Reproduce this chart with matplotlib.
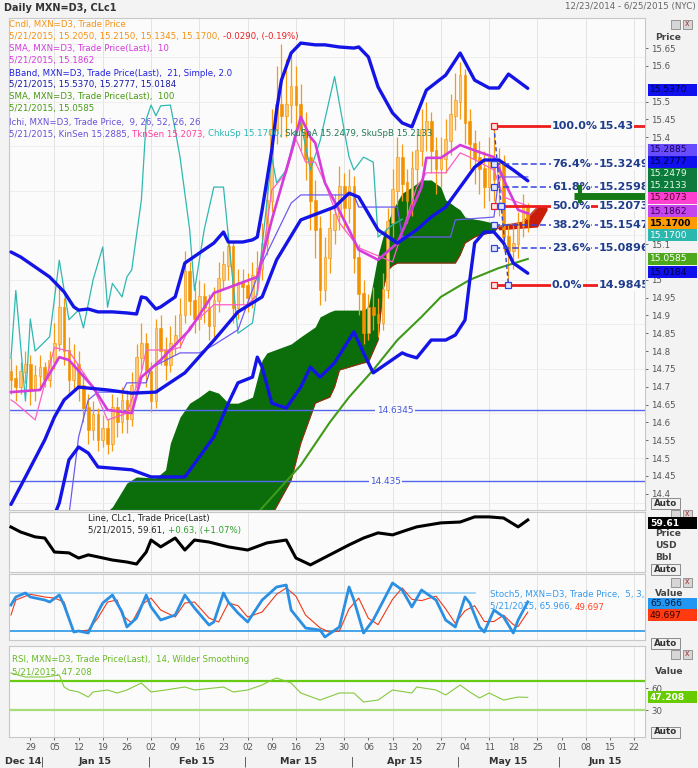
import numpy as np
import pandas as pd
import matplotlib
matplotlib.use("Agg")
import matplotlib.pyplot as plt
from matplotlib.patches import Rectangle
from matplotlib.text import Annotation
from matplotlib.transforms import blended_transform_factory
from matplotlib.ticker import FuncFormatter

plt.rcParams["font.family"] = ["DejaVu Sans"]

# x axis = trading session number (0 = 23 Dec 2014, 132 = 25 Jun 2015)
sessions = pd.bdate_range("2014-12-23", "2015-06-25")

# ---- MXN=D3 daily candles, sessions 0..107 (23 Dec 2014 .. 21 May 2015)
opens = [14.74, 14.72, 14.70, 14.74, 14.76, 14.69, 14.73, 14.75, 14.72, 14.77,
         14.82, 14.92, 14.80, 14.72, 14.76, 14.70, 14.64, 14.58, 14.62, 14.55,
         14.58, 14.54, 14.64, 14.60, 14.66, 14.61, 14.70, 14.78, 14.82, 14.74,
         14.66, 14.86, 14.80, 14.76, 14.82, 14.84, 14.90, 15.02, 14.94, 14.89,
         14.95, 14.92, 14.87, 14.94, 15.00, 15.04, 15.09, 14.92, 14.99, 14.98,
         14.95, 15.01, 15.03, 15.10, 15.22, 15.42, 15.49, 15.46, 15.49, 15.54,
         15.49, 15.42, 15.34, 15.22, 15.14, 14.97, 15.06, 15.14, 15.18, 15.26,
         15.20, 15.26, 15.06, 14.96, 14.85, 14.92, 14.90, 14.88, 14.97, 15.16,
         15.25, 15.34, 15.27, 15.22, 15.31, 15.36, 15.42, 15.44, 15.36, 15.31,
         15.34, 15.39, 15.46, 15.50, 15.57, 15.44, 15.38, 15.34, 15.31, 15.26,
         15.34, 15.28, 15.33, 15.12, 15.08, 15.10, 15.15, 15.205]
highs = [14.78, 14.76, 14.77, 14.80, 14.79, 14.76, 14.79, 14.77, 14.80, 14.88,
         14.98, 14.95, 14.84, 14.82, 14.80, 14.74, 14.68, 14.66, 14.64, 14.62,
         14.61, 14.68, 14.67, 14.70, 14.69, 14.74, 14.82, 14.88, 14.85, 14.77,
         14.89, 14.90, 14.84, 14.87, 14.90, 14.95, 15.08, 15.05, 14.98, 15.00,
         14.99, 14.96, 14.98, 15.05, 15.08, 15.13, 15.11, 15.03, 15.03, 15.02,
         15.05, 15.08, 15.16, 15.28, 15.48, 15.60, 15.66, 15.62, 15.64, 15.60,
         15.55, 15.47, 15.40, 15.28, 15.18, 15.12, 15.20, 15.24, 15.32, 15.30,
         15.31, 15.29, 15.10, 15.00, 14.96, 14.98, 14.95, 15.02, 15.20, 15.31,
         15.40, 15.38, 15.31, 15.36, 15.42, 15.48, 15.50, 15.47, 15.40, 15.40,
         15.45, 15.52, 15.58, 15.61, 15.59, 15.48, 15.42, 15.39, 15.36, 15.40,
         15.43, 15.37, 15.35, 15.16, 15.16, 15.19, 15.24, 15.215]
lows = [14.68, 14.66, 14.68, 14.71, 14.65, 14.66, 14.70, 14.70, 14.70, 14.75,
        14.80, 14.76, 14.68, 14.69, 14.66, 14.60, 14.54, 14.55, 14.52, 14.53,
        14.51, 14.52, 14.56, 14.57, 14.57, 14.59, 14.68, 14.75, 14.70, 14.63,
        14.64, 14.76, 14.72, 14.74, 14.79, 14.81, 14.88, 14.90, 14.85, 14.86,
        14.88, 14.83, 14.84, 14.91, 14.97, 15.00, 14.88, 14.89, 14.93, 14.91,
        14.92, 14.97, 15.00, 15.07, 15.19, 15.38, 15.40, 15.40, 15.44, 15.42,
        15.36, 15.28, 15.14, 15.06, 14.93, 14.94, 15.02, 15.10, 15.14, 15.14,
        15.16, 15.02, 14.90, 14.82, 14.83, 14.86, 14.84, 14.86, 14.95, 15.12,
        15.21, 15.22, 15.16, 15.18, 15.27, 15.32, 15.36, 15.30, 15.24, 15.26,
        15.30, 15.35, 15.42, 15.45, 15.38, 15.31, 15.27, 15.24, 15.20, 15.22,
        15.22, 15.18, 15.08, 14.9845, 15.03, 15.06, 15.12, 15.1345]
closes = [14.72, 14.70, 14.74, 14.76, 14.69, 14.73, 14.75, 14.72, 14.77, 14.82,
          14.92, 14.80, 14.72, 14.76, 14.70, 14.64, 14.58, 14.62, 14.55, 14.58,
          14.54, 14.64, 14.60, 14.66, 14.61, 14.70, 14.78, 14.82, 14.74, 14.66,
          14.86, 14.80, 14.76, 14.82, 14.84, 14.90, 15.02, 14.94, 14.89, 14.95,
          14.92, 14.87, 14.94, 15.00, 15.04, 15.09, 14.92, 14.99, 14.98, 14.95,
          15.01, 15.03, 15.10, 15.22, 15.42, 15.49, 15.46, 15.49, 15.54, 15.49,
          15.42, 15.34, 15.22, 15.14, 14.97, 15.06, 15.14, 15.18, 15.26, 15.20,
          15.26, 15.06, 14.96, 14.85, 14.92, 14.90, 14.88, 14.97, 15.16, 15.25,
          15.34, 15.27, 15.22, 15.31, 15.36, 15.42, 15.44, 15.36, 15.31, 15.34,
          15.39, 15.46, 15.50, 15.57, 15.44, 15.38, 15.34, 15.31, 15.26, 15.34,
          15.28, 15.33, 15.12, 15.08, 15.10, 15.15, 15.20, 15.17]

# ---- indicators (session, value)
sma10_day = [0, 6, 10, 12, 17, 20, 25, 27, 31, 37, 42, 51, 54, 58, 60, 62, 63, 65, 70, 72,
             76, 80, 85, 86, 89, 93, 97, 100, 103, 105, 107]
sma10 = [14.685, 14.691, 14.783, 14.775, 14.699, 14.635, 14.626, 14.727, 14.775, 14.86,
         14.963, 15.008, 15.168, 15.356, 15.457, 15.40, 15.384, 15.272, 15.14, 15.084,
         15.056, 15.103, 15.26, 15.342, 15.342, 15.378, 15.358, 15.344, 15.252, 15.196, 15.1862]

bbu_day = [0, 2, 5, 8, 11, 13, 14, 16, 18, 21, 24, 26, 27, 28, 30, 31, 34, 36, 39, 42,
           44, 45, 48, 50, 51, 52, 54, 55, 56, 58, 60, 63, 65, 68, 71, 72, 74, 76, 79, 81,
           83, 86, 90, 93, 96, 99, 101, 103, 107]
bb_upper = [15.078, 15.064, 15.036, 15.008, 14.966, 14.924, 14.915, 14.918, 14.910, 14.910,
            14.907, 14.904, 14.952, 14.949, 14.918, 14.924, 14.952, 15.047, 15.075, 15.103,
            15.134, 15.106, 15.106, 15.112, 15.12, 15.196, 15.364, 15.476, 15.56, 15.636,
            15.664, 15.659, 15.659, 15.653, 15.65, 15.653, 15.625, 15.541, 15.468, 15.44,
            15.429, 15.532, 15.574, 15.636, 15.56, 15.538, 15.538, 15.577, 15.537]
bbm_day = [0, 3, 7, 9, 11, 14, 20, 25, 30, 36, 42, 47, 52, 55, 60, 67, 70, 72, 76, 80,
           84, 87, 90, 93, 96, 98, 101, 104, 107]
bb_mid = [14.37, 14.447, 14.551, 14.615, 14.663, 14.699, 14.691, 14.682, 14.685, 14.739,
          14.83, 14.91, 14.952, 15.056, 15.168, 15.204, 15.243, 15.232, 15.14, 15.103,
          15.14, 15.176, 15.204, 15.26, 15.316, 15.336, 15.336, 15.308, 15.2777]
bbl_day = [9, 10, 12, 14, 16, 18, 25, 29, 36, 42, 45, 47, 50, 51, 52, 54, 57, 60, 62, 64,
           67, 71, 73, 75, 78, 81, 82, 84, 87, 90, 92, 94, 95, 96, 98, 100, 102, 104, 107]
bb_lower = [14.34, 14.374, 14.495, 14.531, 14.514, 14.475, 14.467, 14.447, 14.447, 14.559,
            14.654, 14.711, 14.727, 14.783, 14.755, 14.654, 14.64, 14.699, 14.755, 14.727,
            14.767, 14.854, 14.795, 14.739, 14.767, 14.795, 14.789, 14.781, 14.831, 14.831,
            14.845, 14.887, 15.0, 15.103, 15.134, 15.134, 15.103, 15.047, 15.0184]

sma100_day = [50, 60, 66, 70, 75, 80, 85, 89, 95, 101, 107]
sma100 = [14.33, 14.48, 14.60, 14.671, 14.747, 14.831, 14.896, 14.952, 15.0, 15.033, 15.0585]

kijun_day = [12, 14, 16, 18, 23, 24, 28, 29, 35, 39, 42, 47, 52, 56, 58, 60, 71, 72, 80, 81,
             91, 92, 100, 101, 107]
kijun = [14.34, 14.559, 14.663, 14.685, 14.685, 14.711, 14.711, 14.753, 14.795, 14.795,
         14.817, 14.86, 15.047, 15.159, 15.215, 15.238, 15.238, 15.204, 15.204, 15.12,
         15.12, 15.168, 15.176, 15.2885, 15.2885]
tenkan_day = [0, 1, 5, 9, 12, 17, 20, 24, 27, 28, 33, 35, 37, 42, 49, 51, 54, 57, 59, 61,
              63, 65, 68, 72, 79, 84, 86, 90, 93, 95, 100, 102, 107]
tenkan = [14.663, 14.654, 14.607, 14.81, 14.80, 14.699, 14.607, 14.626, 14.74, 14.803,
          14.803, 14.81, 14.868, 14.93, 14.93, 14.958, 15.252, 15.30, 15.395, 15.33,
          15.33, 15.272, 15.16, 15.09, 15.05, 15.26, 15.30, 15.30, 15.356, 15.344,
          15.308, 15.232, 15.2073]
chikou_day = [0, 1, 3, 4, 5, 8, 10, 12, 14, 15, 17, 19, 20, 21, 23, 24, 25, 27, 28, 29,
              30, 31, 33, 34, 35, 37, 38, 40, 42, 44, 47, 50, 51, 54, 55, 57, 59, 60, 62, 64,
              67, 70, 71, 73, 75, 76, 79, 81]
chikou = [14.78, 14.97, 14.66, 14.89, 14.80, 14.84, 15.055, 14.888, 14.915, 14.865,
          15.00, 15.092, 14.923, 14.99, 14.952, 15.008, 15.028, 15.224, 15.45, 15.49,
          15.46, 15.488, 15.49, 15.42, 15.344, 15.14, 14.97, 15.14, 15.26, 15.26,
          14.85, 14.879, 14.97, 15.344, 15.272, 15.308, 15.42, 15.44, 15.308, 15.39,
          15.57, 15.344, 15.308, 15.344, 15.33, 15.12, 15.154, 15.17]
# cloud: senkou span A / span B (14.30 = below the visible range)
cloud_day = [19, 21, 24, 26, 30, 32, 33, 35, 37, 39, 41, 43, 45, 47, 50, 52, 53, 54, 58, 60,
             63, 64, 66, 67, 68, 73, 74, 76, 77, 78, 79, 80, 81, 83, 85, 87, 89, 90, 91, 92,
             93, 94, 96, 97, 100, 101, 106, 109, 111]
span_a = [14.34, 14.363, 14.43, 14.447, 14.444, 14.467, 14.542, 14.615, 14.654, 14.671,
          14.691, 14.682, 14.654, 14.654, 14.671, 14.775, 14.795, 14.80, 14.82, 14.84,
          14.868, 14.896, 14.91, 14.915, 14.915, 14.915, 14.924, 15.07, 15.12, 15.16,
          15.196, 15.22, 15.243, 15.26, 15.28, 15.28, 15.26, 15.224, 15.215, 15.205,
          15.196, 15.176, 15.17, 15.168, 15.159, 15.14, 15.145, 15.148, 15.196]
span_b = [14.30, 14.30, 14.30, 14.30, 14.30, 14.30, 14.30, 14.30, 14.30, 14.30,
          14.30, 14.30, 14.30, 14.30, 14.30, 14.30, 14.30, 14.34, 14.438, 14.542,
          14.654, 14.66, 14.671, 14.70, 14.747, 14.767, 14.769, 14.831, 14.971, 15.027,
          15.04, 15.047, 15.047, 15.047, 15.047, 15.047, 15.047, 15.047, 15.047, 15.047,
          15.07, 15.103, 15.12, 15.125, 15.134, 15.15, 15.162, 15.204, 15.204]

# horizontal lines and Fibonacci retracement
hline_vals = [14.6345, 14.435]
fib_pct = [100.0, 76.4, 61.8, 50.0, 38.2, 23.6, 0.0]
fib_val = [15.43, 15.3249, 15.2598, 15.2073, 15.1547, 15.0896, 14.9845]
fib_hi_day, fib_lo_day = 100, 103
# green drawing object at the right edge (sessions, price)
green_mark_days = [116.5, 131.3]
green_mark_val = 15.234
green_stub_day, green_stub_vals = 117.8, [15.266, 15.216]

# ---- CLc1 (oil) line
oil_day = [0, 2, 5, 7, 9, 12, 14, 16, 18, 21, 24, 26, 28, 29, 31, 34, 36, 38, 41, 45,
           49, 53, 57, 59, 62, 66, 70, 73, 76, 79, 82, 84, 89, 93, 96, 99, 102, 105, 107]
oil = [57.16, 55.4, 53.7, 53.3, 48.4, 48.1, 46.3, 47.4, 46.7, 45.6,
       44.9, 44.2, 48.4, 52.6, 50.2, 53.3, 49.1, 52.6, 51.9, 50.2,
       49.1, 51.6, 52.6, 46.3, 43.9, 47.4, 50.9, 53.3, 55.1, 54.4,
       56.1, 57.2, 58.6, 58.9, 60.7, 60.7, 60.3, 57.2, 59.61]

# ---- Stochastics (5, 3)
stk_day = [0, 1, 3, 4, 7, 8, 10, 11, 13, 14, 16, 18, 19, 21, 23, 24, 26, 28, 29, 31,
           34, 36, 38, 41, 42, 44, 45, 47, 49, 52, 55, 57, 58, 61, 64, 65, 68, 70, 71, 73,
           75, 79, 81, 83, 85, 88, 90, 92, 94, 95, 97, 98, 100, 102, 104, 105, 107]
stoch_k = [61, 73.7, 80, 73.7, 68.9, 65.8, 76.8, 61, 18.4, 20,
           16.8, 50, 64.2, 76.8, 50, 26.3, 40.5, 76.8, 57.9, 37.3,
           45.2, 76.8, 56.3, 29.4, 34.2, 80, 65.8, 48.4, 34.2, 68.9,
           89.5, 92.6, 53.1, 24.7, 21.5, 10.5, 26.3, 89.5, 68.9, 16.8,
           37.3, 95.8, 84.7, 57.9, 84.7, 68.9, 37.3, 26.3, 73.7, 64.2,
           26.3, 18.4, 53.1, 42.1, 16.8, 37.3, 65.966]
std_day = [0, 1, 4, 7, 9, 11, 12, 13, 16, 18, 20, 22, 23, 25, 27, 29, 31, 34, 36, 38,
           41, 43, 45, 47, 49, 52, 55, 57, 59, 61, 64, 66, 68, 70, 72, 74, 76, 79, 81, 83,
           85, 88, 90, 92, 94, 96, 98, 100, 102, 104, 105, 107]
stoch_d = [45.2, 68.9, 78, 73.7, 72, 65.8, 40.5, 18.4, 21.5, 40.5,
           65.8, 68.9, 45.2, 32.6, 61, 72, 53.1, 42.1, 64.2, 65.8,
           40.5, 34.2, 64.2, 60, 42, 50, 78, 88, 75, 45,
           25, 18, 20, 55, 72, 40, 30, 70, 88, 70,
           68, 75, 55, 32, 52, 60, 35, 35, 45, 30,
           27, 49.697]

# ---- RSI (14, Wilder)
rsi_day = [0, 3, 7, 10, 11, 12, 14, 16, 17, 20, 22, 24, 27, 29, 32, 36, 38, 42, 44, 46,
           49, 52, 54, 55, 58, 60, 64, 68, 71, 73, 76, 79, 83, 84, 88, 90, 93, 95, 97, 99,
           102, 105, 107]
rsi = [80.5, 75, 75, 77.7, 61.4, 57.3, 54.6, 47.7, 54.6, 57.3,
       53.2, 57.3, 66.8, 54.6, 57.3, 61.4, 57.3, 60, 61.4, 54.6,
       57.3, 64.1, 70.9, 73.7, 66.8, 53.2, 43.6, 53.2, 53.2, 40.9,
       43.6, 57.3, 53.2, 61.4, 57.3, 50.5, 64.1, 54.6, 46.4, 53.2,
       43.6, 47.7, 47.208]

# ---------------------------------------------------------------- layout
W, H = 698, 768
fig = plt.figure(figsize=(W / 100, H / 100), dpi=100, facecolor="#f3f3f3")


def fx(x):
    return x / W


def fy(y):
    return 1 - y / H


XLIM = (-0.41, 131.27)
mondays = [i for i, d in enumerate(sessions) if d.weekday() == 0]
grid_days = mondays[1::2]


def panel(top, bottom, ylim):
    a = fig.add_axes([fx(9), fy(bottom), fx(645) - fx(9), (bottom - top) / H])
    a.set_facecolor("#fbfbfb")
    a.set_xlim(*XLIM)
    a.set_ylim(*ylim)
    for s in a.spines.values():
        s.set_color("#c8c8c8")
        s.set_linewidth(0.8)
    a.tick_params(axis="x", bottom=False, labelbottom=False)
    a.yaxis.tick_right()
    a.tick_params(axis="y", labelsize=6.2, colors="#555555", length=2.5, pad=2, width=0.6)
    for d in grid_days:
        a.axvline(d, color="#e4e4e4", lw=0.7, zorder=0)
    return a


ax = panel(18, 510, (14.3543, 15.7343))
ax_oil = panel(512, 572, (41.41, 62.41))
ax_st = panel(574, 640, (5.78, 110.0))
ax_rsi = panel(646, 737, (-6.8, 117.3))

# ---- main price panel (ticks hidden behind the value tags are left out)
ax.set_yticks([15.65, 15.6, 15.5, 15.45, 15.4, 15.1, 15.0, 14.95, 14.9, 14.85, 14.8,
               14.75, 14.7, 14.65, 14.6, 14.55, 14.5, 14.45, 14.4])
ax.yaxis.set_major_formatter(FuncFormatter(lambda v, p: "%g" % round(v, 2)))
for v in np.arange(14.375, 15.70, 0.125):
    ax.axhline(v, color="#ececec", lw=0.6, zorder=0)

cloud_x = np.array(cloud_day)
a_arr, b_arr = np.array(span_a), np.array(span_b)
ax.fill_between(cloud_x, a_arr, b_arr, where=a_arr >= b_arr, interpolate=True,
                color="#0b6e0b", lw=0, zorder=1)
ax.fill_between(cloud_x, a_arr, b_arr, where=a_arr < b_arr, interpolate=True,
                color="#c81e0a", lw=0, zorder=1)
ax.plot(cloud_x, b_arr, color="#b02010", lw=0.7, zorder=1.2)

for v, lab_day in zip(hline_vals, [79.5, 77.5]):
    ax.axhline(v, color="#5566ee", lw=1.0, zorder=1.5)
    ax.text(lab_day, v, "%g" % v, ha="center", va="center", fontsize=6.4, color="#4455dd",
            bbox=dict(boxstyle="square,pad=0.15", fc="#fbfbfb", ec="none"), zorder=1.6)

# candles
days = np.arange(len(closes))
o, h, l, c = map(np.array, (opens, highs, lows, closes))
up = c >= o
ax.vlines(days, l, h, color="#f59a12", lw=0.9, zorder=2)
ax.bar(days, np.abs(c - o) + 0.004, bottom=np.minimum(o, c), width=0.55,
       color=np.where(up, "#fcc777", "#f39200"), edgecolor="#f39200", linewidth=0.4, zorder=2.1)

ax.plot(chikou_day, chikou, color="#2fb8b0", lw=0.9, zorder=3)
ax.plot(kijun_day, kijun, color="#6d5cf2", lw=0.9, zorder=3.2)
ax.plot(tenkan_day, tenkan, color="#ff5fc4", lw=0.9, zorder=3.3)
ax.plot(sma10_day, sma10, color="#d43cdc", lw=1.9, zorder=3.5)
ax.plot(sma100_day, sma100, color="#3f9a1a", lw=1.5, zorder=3.6)
for dd, vv in ((bbu_day, bb_upper), (bbm_day, bb_mid), (bbl_day, bb_lower)):
    ax.plot(dd, vv, color="#1414e6", lw=2.4, zorder=4, solid_capstyle="round")

# Fibonacci retracement
for p, v in zip(fib_pct, fib_val):
    red = p in (100.0, 50.0, 0.0)
    col = "#ee1c1c" if red else "#3344dd"
    ax.plot([fib_hi_day, XLIM[1]], [v, v], color=col, lw=2.0 if red else 1.1,
            ls="-" if red else (0, (4, 2)), zorder=5)
    ax.plot(fib_hi_day, v, marker="s", ms=4, mfc="#fde3e3" if red else "#e3e6fb",
            mec=col, mew=0.9, zorder=5.5)
    ax.text(112, v, "%.1f%%" % p, fontsize=8, fontweight="bold", color="#203d8c",
            ha="left", va="center", zorder=6,
            bbox=dict(boxstyle="square,pad=0.05", fc="#fbfbfb", ec="none"))
    ax.text(121.6, v, "%g" % v, fontsize=8, fontweight="bold", color="#203d8c",
            ha="left", va="center", zorder=6, clip_on=True,
            bbox=dict(boxstyle="square,pad=0.05", fc="#fbfbfb", ec="none"))
ax.plot([fib_hi_day, fib_lo_day], [fib_val[0], fib_val[-1]], color="#3344dd", lw=1.0,
        ls=(0, (3, 2)), zorder=5)
for v in (fib_val[3], fib_val[-1]):
    t = fib_hi_day + (fib_val[0] - v) / (fib_val[0] - fib_val[-1]) * (fib_lo_day - fib_hi_day)
    ax.plot(t, v, marker="s", ms=4, mfc="#e3e6fb", mec="#3344dd", mew=0.9, zorder=5.5)

# green drawing object (drawn over the Fibonacci labels, as in the original)
ax.plot(green_mark_days, [green_mark_val] * 2, color="#157a15", lw=5, zorder=6.5,
        solid_capstyle="butt")
ax.plot([green_stub_day] * 2, green_stub_vals, color="#157a15", lw=3, zorder=6.5,
        solid_capstyle="butt")

# ---- oil panel
ax_oil.set_yticks([])
ax_oil.plot(oil_day, oil, color="#000000", lw=2.2, zorder=3)

# ---- stochastics panel
ax_st.set_yticks([])
ax_st.plot([XLIM[0], 96], [80, 80], color="#9fd2f5", lw=1.3, zorder=1)
ax_st.axhline(20, color="#3a9fe6", lw=1.3, zorder=1)
ax_st.plot(std_day, stoch_d, color="#ee3a1a", lw=0.8, zorder=2)
ax_st.plot(stk_day, stoch_k, color="#2b8fe2", lw=2.0, zorder=3)

# ---- RSI panel
ax_rsi.set_yticks([30, 60])
ax_rsi.axhline(70, color="#66cc11", lw=1.6, zorder=1)
ax_rsi.axhline(30, color="#a6dd77", lw=1.6, zorder=1)
ax_rsi.plot(rsi_day, rsi, color="#86c940", lw=0.8, zorder=2)

ax_rsi.set_xticks(mondays)
ax_rsi.set_xticklabels([sessions[i].strftime("%d") for i in mondays])
ax_rsi.tick_params(axis="x", bottom=True, labelbottom=True, labelsize=6.2,
                   colors="#555555", length=2, pad=2, width=0.6)
tr = blended_transform_factory(ax_rsi.transData, fig.transFigure)
months = pd.Series(range(len(sessions)), index=sessions)
for k, (m, idx) in enumerate(months.groupby(sessions.to_period("M"))):
    name = m.strftime("%b %y")
    if k == 0:
        ax_rsi.text(idx.values[-1] + 0.2, fy(762), name, transform=tr, ha="right", va="center",
                    fontsize=6.8, fontweight="bold", color="#333333", clip_on=False)
        continue
    ax_rsi.text(idx.values[0] - 0.4, fy(762), "|", transform=tr, ha="center", va="center",
                fontsize=7, color="#333333", clip_on=False)
    ax_rsi.text(idx.values.mean(), fy(762), name, transform=tr, ha="center", va="center",
                fontsize=6.8, fontweight="bold", color="#333333", clip_on=False)

# ---------------------------------------------------------------- texts
fig.text(fx(4), fy(8), "Daily MXN=D3, CLc1", fontsize=7, fontweight="bold", color="#333333",
         va="center")
fig.text(fx(696), fy(7), "12/23/2014 - 6/25/2015 (NYC)", fontsize=6.3, color="#666666",
         va="center", ha="right")


def segs(x, y, parts, size=6.2, weight="normal"):
    t = fig.text(fx(x), fy(y), parts[0][0], color=parts[0][1], fontsize=size,
                 fontweight=weight, va="center", ha="left", zorder=8)
    for s, col in parts[1:]:
        t = fig.add_artist(Annotation(s, xy=(1, 0), xycoords=t, va="bottom", ha="left",
                                      color=col, fontsize=size, fontweight=weight))
        t.set_zorder(8)


ORG, RED, MAG, BLU, GRN, PUR = "#f59112", "#ee2020", "#d43cdc", "#2222dd", "#4a9a14", "#6a4ed8"
segs(9, 24, [("Cndl, MXN=D3, Trade Price", ORG)])
segs(9, 36, [("5/21/2015, 15.2050, 15.2150, 15.1345, 15.1700, ", ORG), ("-0.0290, (-0.19%)", RED)])
segs(9, 48.5, [("SMA, MXN=D3, Trade Price(Last),  10", MAG)])
segs(9, 61, [("5/21/2015, 15.1862", MAG)])
segs(9, 73, [("BBand, MXN=D3, Trade Price(Last),  21, Simple, 2.0", BLU)])
segs(9, 85, [("5/21/2015, 15.5370, 15.2777, 15.0184", "#1a1aa6")])
segs(9, 97, [("SMA, MXN=D3, Trade Price(Last),  100", GRN)])
segs(9, 109, [("5/21/2015, 15.0585", GRN)])
segs(9, 122, [("Ichi, MXN=D3, Trade Price,  9, 26, 52, 26, 26", PUR)])
segs(9, 134, [("5/21/2015, KinSen 15.2885, ", PUR), ("TknSen 15.2073, ", "#ff3fa0"),
              ("ChkuSp 15.1700, ", "#2bb5b5"), ("SkuSpA 15.2479, SkuSpB 15.2133", "#237a55")])

segs(88, 519, [("Line, CLc1, Trade Price(Last)", "#222222")])
segs(88, 530, [("5/21/2015, 59.61, ", "#222222"), ("+0.63, (+1.07%)", "#2e9e2e")])
segs(490, 594, [("Stoch5, MXN=D3, Trade Price,  5, 3,", "#3399ee")])
segs(490, 607, [("5/21/2015, 65.966, ", "#3399ee"), ("49.697", "#ff4422")])
segs(12, 660, [("RSI, MXN=D3, Trade Price(Last),  14, Wilder Smoothing", "#66bb22")])
segs(12, 672, [("5/21/2015, 47.208", "#66bb22")])

# right-hand captions
for y, s in ((38, "Price"), (533, "Price"), (545, "USD"), (557, "Bbl"), (594, "Value"),
             (672, "Value")):
    fig.text(fx(655), fy(y), s, fontsize=6.6, fontweight="bold", color="#444444", va="center")


def tag(y, text, face, color, bold=False):
    fig.add_artist(Rectangle((fx(648), fy(y + 6)), fx(49), 12 / H, transform=fig.transFigure,
                             facecolor=face, edgecolor="none", zorder=5))
    fig.text(fx(650), fy(y), text, fontsize=6.6, color=color, va="center", ha="left",
             fontweight="bold" if bold else "normal", zorder=6)


# "Auto" buttons and panel icons
for y in (503, 569, 643, 732):
    fig.add_artist(Rectangle((fx(651), fy(y + 6)), fx(29), 11 / H, transform=fig.transFigure,
                             facecolor="#f0f0f0", edgecolor="#8a8a8a", lw=0.7, zorder=5))
    fig.text(fx(665.5), fy(y), "Auto", fontsize=6.3, fontweight="bold", color="#333333",
             ha="center", va="center", zorder=6)
for y in (24, 514, 582, 654):
    for x0 in (671, 683):
        fig.add_artist(Rectangle((fx(x0), fy(y + 4.5)), fx(9), 9 / H, transform=fig.transFigure,
                                 facecolor="#d6d6d6", edgecolor="#888888", lw=0.6, zorder=4))
    fig.text(fx(687.5), fy(y), "x", fontsize=5.5, color="#aa3333", ha="center", va="center",
             zorder=4)

tag(90, "%.4f" % bb_upper[-1], "#1010ee", "#000044")
tag(150, "%.4f" % kijun[-1], "#6a4cff", "#1a0055")
tag(162, "%.4f" % bb_mid[-1], "#1010ee", "#000044")
tag(174, "15.2479", "#0c7a3a", "#e6ffe6")
tag(186, "15.2133", "#0c7a3a", "#e6ffe6")
tag(198, "%.4f" % tenkan[-1], "#ff3fcf", "#55002a")
tag(211, "%.4f" % sma10[-1], "#c444ee", "#3a0055")
tag(223, "%.4f" % closes[-1], "#ff9a00", "#000000", bold=True)
tag(235, "%.4f" % chikou[-1], "#2ab8ae", "#ffffff")
tag(259, "%.4f" % sma100[-1], "#4ea81c", "#ffffff")
tag(272, "%.4f" % bb_lower[-1], "#1010ee", "#000044")
tag(523, "%.2f" % oil[-1], "#000000", "#ffffff", bold=True)
tag(604, "%.3f" % stoch_k[-1], "#2196f3", "#001a33")
tag(615, "%.3f" % stoch_d[-1], "#ff3a10", "#330000")
tag(697, "%.3f" % rsi[-1], "#66cc00", "#ffffff", bold=True)

fig.savefig("out.png", dpi=100, facecolor=fig.get_facecolor())
